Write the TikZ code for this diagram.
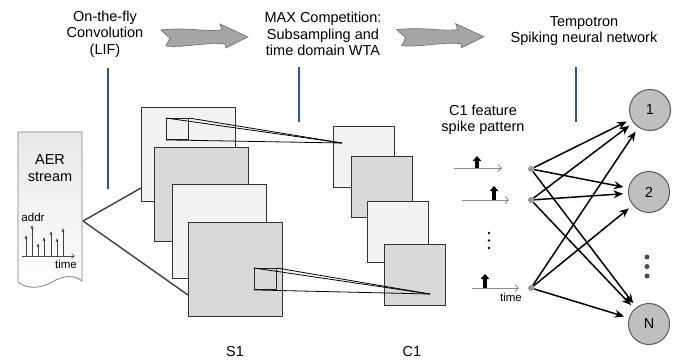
\documentclass[tikz,border=0pt]{standalone}
\usepackage{fontspec}
\setmainfont{Liberation Sans}
\usetikzlibrary{arrows.meta,calc,positioning}
\newlength{\SOneSide}
\setlength{\SOneSide}{94pt}
\newlength{\COneSide}
\setlength{\COneSide}{61pt}
\definecolor{pointerblue}{HTML}{2F5597}
\definecolor{maplight}{HTML}{F2F2F2}
\definecolor{mapdark}{HTML}{D9D9D9}
\definecolor{neurongray}{HTML}{BFBFBF}
\tikzset{/snn/text/.style={align=center, inner sep=1pt, font=\fontsize{14.5pt}{16.5pt}\selectfont}}
\tikzset{/snn/small/.style={inner sep=0, font=\fontsize{11.5pt}{13pt}\selectfont}}
\tikzset{/snn/map/.style={
	shape=rectangle, draw=black!80, line width=1pt, inner sep=0, minimum size=\SOneSide, anchor=north west
}}
\tikzset{/snn/cmap/.style={
	shape=rectangle, draw=black!80, line width=1pt, inner sep=0, minimum size=\COneSide, anchor=north west
}}
\tikzset{/snn/window/.style={shape=rectangle, draw=black!85, line width=0.9pt, inner sep=0, minimum width=22pt, minimum height=21pt, anchor=north west}}
\tikzset{/snn/rf/.style={black, line width=0.8pt}}
\tikzset{/snn/fan/.style={black!75, line width=1.4pt}}
\tikzset{/snn/pointer/.style={draw=pointerblue, line width=1.5pt}}
\tikzset{/snn/input/.style={circle, fill=black!40, inner sep=0, minimum size=6pt}}
\tikzset{/snn/dot/.style={circle, fill=black, inner sep=0, minimum size=2.6pt}}
\tikzset{/snn/bigdot/.style={circle, fill=black!70, inner sep=0, minimum size=5pt}}
\tikzset{/snn/neuron/.style={circle, draw=black!65, fill=neurongray, line width=1pt, inner sep=0, minimum size=41pt, font=\fontsize{14.5pt}{16.5pt}\selectfont}}
\tikzset{/snn/syn/.style={black, line width=1.5pt, -{Stealth[length=9.5pt,width=8pt]}, shorten >=5pt}}
\tikzset{/snn/train/.style={black!45, line width=0.8pt, -{Straight Barb[length=3.5pt,width=7pt]}}}
\tikzset{/snn/spike/.style={black, line width=3.5pt, -{Triangle[length=5pt,width=8.5pt]}}}
\tikzset{/snn/aeraxis/.style={black!70, line width=0.6pt, -{Straight Barb[length=3pt,width=5pt]}}}
\tikzset{/snn/aerspike/.style={black!75, line width=0.6pt, -{Latex[length=3.5pt,width=3pt]}}}
\tikzset{fat arrow/.pic={
	\path[fill=black!35, draw=black!55, line width=0.7pt] (-43,-6) .. controls (-15,-9) and (0,-4) .. (18,-6) -- (16,-12) -- (44,1) -- (22,12) -- (21,8) .. controls (0,6) and (-20,12) .. (-38,10) -- (-34,2) -- cycle;
}}

\begin{document}
\begin{tikzpicture}[x=1pt, y=-1pt]
			\useasboundingbox (0,0) rectangle (683,360);
			% headings
			\path (105,34) node[/snn/text] (conv) {On-the-fly\\Convolution\\(LIF)};
			\path (323,34) node[/snn/text] (maxc) {MAX Competition:\\Subsampling and\\time domain WTA};
			\path (584,31) node[/snn/text] (tempo) {Tempotron\\Spiking neural network};
			\path ($(conv.east)!0.5!(maxc.west)+(0,2)$) pic {fat arrow};
			\path ($(maxc.east)!0.45!(tempo.west)+(0,3)$) pic {fat arrow};
			\path (108,68) coordinate (convptr) (299,67) coordinate (maxcptr) (576,67) coordinate (tempoptr);
			\path[/snn/pointer] (convptr) -- ++(0,121);
			\path[/snn/pointer] (maxcptr) -- ++(0,55);
			\path[/snn/pointer] (tempoptr) -- ++(0,55);
			% AER stream
			\path[top color=black!9, bottom color=white, draw=black!50, line width=0.8pt] (18,132) -- (82,132) -- (82,281) .. controls (74,274) and (62,276) .. (52,282) .. controls (42,288) and (28,290) .. (18,282) -- cycle;
			\path (50,168) node[/snn/text] (aer) {AER\\stream};
			\path (33,217) node[/snn/small] (addr) {addr};
			\path (66,264) node[/snn/small] (aertime) {time};
			\path[/snn/aeraxis, draw] (22,256) -- (75,256);
			\path[/snn/aerspike, draw] (26,256) -- (26,235);
			\path[/snn/aerspike, draw] (32,256) -- (32,225);
			\path[/snn/aerspike, draw] (38,256) -- (38,243);
			\path[/snn/aerspike, draw] (44,256) -- (44,237);
			\path[/snn/aerspike, draw] (51,256) -- (51,231);
			\path[/snn/aerspike, draw] (57,256) -- (57,238);
			\path[/snn/aerspike, draw] (63,256) -- (63,228);
			\coordinate (aerout) at (83,221);
			% S1 maps
			\path (141,107) node[/snn/map, fill=maplight] (S1a) {};
			\path (S1a.north west) ++(13,40) node[/snn/map, fill=mapdark] (S1b) {};
			\path (S1b.north west) ++(18,37) node[/snn/map, fill=maplight] (S1c) {};
			\path (S1c.north west) ++(16,38) node[/snn/map, fill=mapdark] (S1d) {};
			\path (S1a.north west) ++(25,11) node[/snn/window] (W1) {};
			\path (S1d.north west) ++(66,46) node[/snn/window] (W2) {};
			\path[/snn/fan, draw] (aerout) -- ($(S1a.south west)+(0,-14)$);
			\path[/snn/fan, draw] (aerout) -- ($(S1d.south west)+(0,-22)$);
			% C1 maps
			\path (333,126) node[/snn/cmap, fill=maplight] (C1a) {};
			\path (C1a.north west) ++(18,30) node[/snn/cmap, fill=mapdark] (C1b) {};
			\path (C1b.north west) ++(16,45) node[/snn/cmap, fill=maplight] (C1c) {};
			\path (C1c.north west) ++(17,43) node[/snn/cmap, fill=mapdark] (C1d) {};
			\path (C1a.north west) ++(9,17) coordinate (T1);
			\path (C1d.north west) ++(46,50) coordinate (T2);
			\path[/snn/rf, draw] (W1.north west) -- (T1);
			\path[/snn/rf, draw] (W1.north east) -- (T1);
			\path[/snn/rf, draw] (W1.south west) -- (T1);
			\path[/snn/rf, draw] (W2.north west) -- (T2);
			\path[/snn/rf, draw] (W2.north east) -- (T2);
			\path[/snn/rf, draw] (W2.south west) -- (T2);
			\path (235,352) node[/snn/text] (S1lab) {S1};
			\path (412,352) node[/snn/text] (C1lab) {C1};
			% spike pattern and tempotron
			\path (483,120) node[/snn/text] (feat) {C1 feature\\spike pattern};
			\path (531,169) node[/snn/input] (in1) {};
			\path (531,200) node[/snn/input] (in2) {};
			\path (531,288) node[/snn/input] (in3) {};
			\path[/snn/train, draw] (454,168) -- (502,168);
			\path[/snn/train, draw] (462,200) -- (509,200);
			\path[/snn/train, draw] (472,288) -- (519,288);
			\path[/snn/spike, draw] (477,168) -- (477,156);
			\path[/snn/spike, draw] (494,200) -- (494,186);
			\path[/snn/spike, draw] (485,288) -- (485,274);
			\path (511,297) node[/snn/small] (ttime) {time};
			\path (489,233) node[/snn/dot] (v1) {};
			\path (489,240.5) node[/snn/dot] (v2) {};
			\path (489,248) node[/snn/dot] (v3) {};
			\path (650,110) node[/snn/neuron] (out1) {1};
			\path (649,192) node[/snn/neuron] (out2) {2};
			\path (649,324) node[/snn/neuron] (out3) {N};
			\path (647,257) node[/snn/bigdot] (d1) {};
			\path (647,266.5) node[/snn/bigdot] (d2) {};
			\path (647,276) node[/snn/bigdot] (d3) {};
			\path[/snn/syn, draw] (in1) -- (out1);
			\path[/snn/syn, draw] (in1) -- (out2);
			\path[/snn/syn, draw] (in1) -- (out3);
			\path[/snn/syn, draw] (in2) -- (out1);
			\path[/snn/syn, draw] (in2) -- (out2);
			\path[/snn/syn, draw] (in2) -- (out3);
			\path[/snn/syn, draw] (in3) -- (out1);
			\path[/snn/syn, draw] (in3) -- (out2);
			\path[/snn/syn, draw] (in3) -- (out3);
		\end{tikzpicture}
\end{document}
